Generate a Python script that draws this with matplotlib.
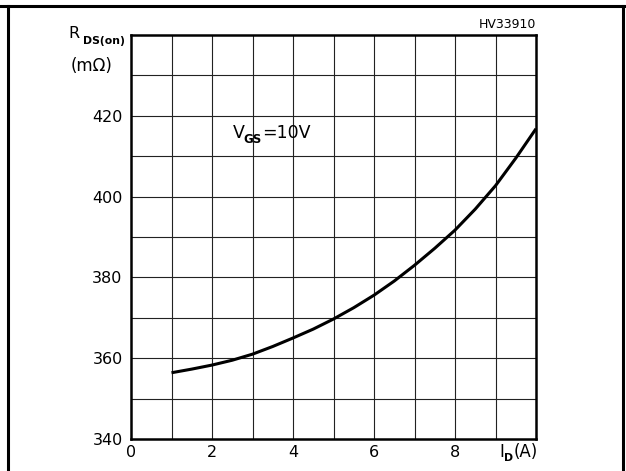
import matplotlib
matplotlib.use("Agg")
import matplotlib.pyplot as plt
from matplotlib.lines import Line2D

# Data
id_a = [1, 1.5, 2, 2.5, 3, 3.5, 4, 4.5, 5, 5.5, 6, 6.5, 7, 7.5, 8, 8.5, 9, 9.5, 10]
rds_mohm = [356.4, 357.3, 358.3, 359.5, 361.0, 362.9, 365.0, 367.2, 369.7, 372.5,
            375.6, 379.1, 383.0, 387.2, 391.7, 396.9, 402.7, 409.5, 416.8]
x_ticks = [0, 2, 4, 6, 8]
y_ticks = [340, 360, 380, 400, 420]

plt.rcParams['font.family'] = ['DejaVu Sans']

fig = plt.figure(figsize=(6.26, 4.71), dpi=100)
ax = fig.add_axes([131/626, 1-439/471, (536-131)/626, (439-35)/471])

ax.set_xlim(0, 10)
ax.set_ylim(340, 440)
for xv in range(1, 10):
    ax.axvline(xv, color='#222222', lw=0.8, zorder=1)
for yv in range(350, 440, 10):
    ax.axhline(yv, color='#222222', lw=0.8, zorder=1)

ax.plot(id_a, rds_mohm, color='black', lw=2.2, zorder=3, solid_capstyle='butt')

for s in ax.spines.values():
    s.set_linewidth(1.8)
    s.set_color('black')

ax.set_xticks(x_ticks)
ax.set_yticks(y_ticks)
ax.tick_params(length=0, labelsize=11.5, pad=6)
ax.tick_params(axis='x', pad=4)


def fx(px):
    return px / 626


def fy(py):
    return 1 - py / 471


# V_GS = 10V annotation
fig.text(fx(233), fy(133), 'V', fontsize=12.5, ha='left', va='center')
fig.text(fx(243), fy(140), 'GS', fontsize=8.5, ha='left', va='center', weight='bold')
fig.text(fx(262), fy(133), '=10V', fontsize=12.5, ha='left', va='center')

# y label
fig.text(fx(68), fy(34), 'R', fontsize=11.5, ha='left', va='center')
fig.text(fx(125), fy(41), 'DS(on)', fontsize=7.8, ha='right', va='center', weight='bold')
fig.text(fx(112), fy(66), '(mΩ)', fontsize=12, ha='right', va='center')

fig.text(fx(536), fy(24), 'HV33910', fontsize=9, ha='right', va='center')

# x label
fig.text(fx(499), fy(452), 'I', fontsize=12, ha='left', va='center')
fig.text(fx(504), fy(458), 'D', fontsize=7.8, ha='left', va='center', weight='bold')
fig.text(fx(514), fy(452), '(A)', fontsize=12, ha='left', va='center')

# Outer frame (top, left, right)
fig.add_artist(Line2D([0, fx(624)], [fy(5.7), fy(5.7)], color='black', lw=2.2, transform=fig.transFigure))
fig.add_artist(Line2D([fx(7.5), fx(7.5)], [fy(5.7), 0], color='black', lw=2.2, transform=fig.transFigure))
fig.add_artist(Line2D([fx(623), fx(623)], [fy(5.7), 0], color='black', lw=2.2, transform=fig.transFigure))

fig.savefig('out.png', dpi=100)
